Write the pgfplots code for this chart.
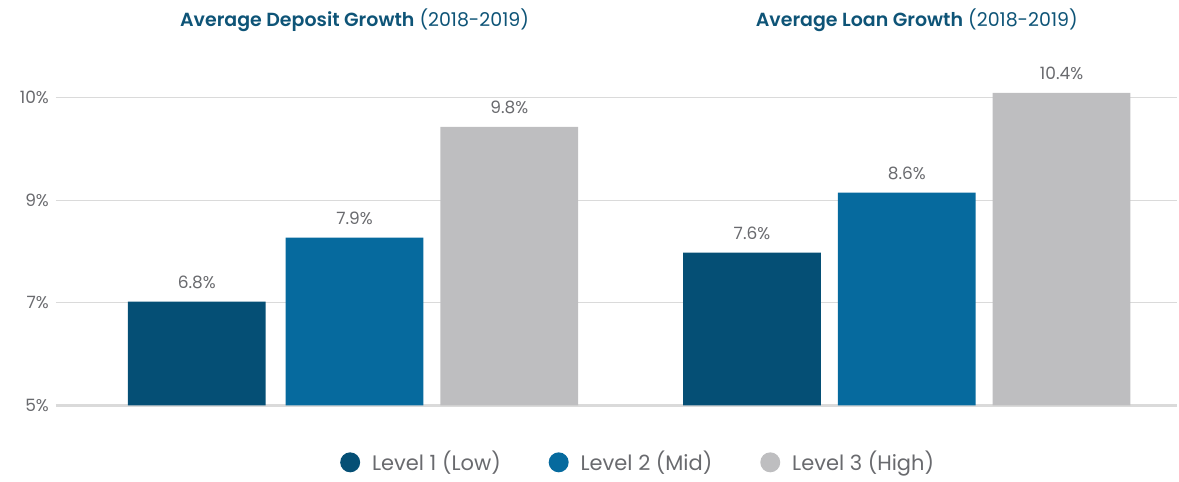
\documentclass[border=0pt]{standalone}
\usepackage{pgfplots}
\pgfplotsset{compat=1.18}
\usepackage{fontspec}
\setmainfont{Poppins}[BoldFont={Poppins SemiBold}]
\definecolor{lvlone}{RGB}{5,79,117}
\definecolor{lvltwo}{RGB}{6,106,158}
\definecolor{lvlthree}{RGB}{190,190,192}
\definecolor{titleblue}{RGB}{14,84,119}
\definecolor{txtgray}{RGB}{105,106,110}
\definecolor{gridgray}{RGB}{218,218,218}

\begin{document}
\begin{tikzpicture}
\begin{axis}[
    scale only axis,
    width=561.5pt, height=183pt,
    xmin=56, xmax=1179,
    ymin=0, ymax=3.564,
    clip=false,
    axis line style={draw=none},
    major tick length=0pt,
    xtick=\empty,
    ytick={1,2,3},
    yticklabels={7\%,9\%,10\%},
    extra y ticks={0},
    extra y tick labels={5\%},
    extra y tick style={grid style={draw=gridgray, line width=1.6pt}},
    ymajorgrids,
    grid style={draw=gridgray, line width=0.6pt},
    yticklabel style={font=\fontsize{8.5}{10}\selectfont, text=txtgray},
    ybar, bar width=138, bar shift=0pt,
    nodes near coords,
    point meta=explicit symbolic,
    every node near coord/.append style={font=\fontsize{8.5}{10}\selectfont, text=txtgray, anchor=south, yshift=3pt},
    legend columns=3,
    legend style={at={(axis cs:640,-0.555)}, anchor=center, draw=none, fill=none,
        font=\fontsize{10.5}{12}\selectfont, text=txtgray,
        /tikz/every odd column/.append style={column sep=4pt},
        /tikz/every even column/.append style={column sep=22pt}},
    legend image code/.code={\fill[#1, draw=none] (0.15cm,0cm) circle (5pt);},
]
% Level 1 (Low)
\addplot[fill=lvlone, draw=none] coordinates {(197,1.013) [6.8\%] (753,1.490) [7.6\%]};
\addlegendentry{Level 1 (Low)}
% Level 2 (Mid)
\addplot[fill=lvltwo, draw=none] coordinates {(355,1.636) [7.9\%] (908,2.074) [8.6\%]};
\addlegendentry{Level 2 (Mid)}
% Level 3 (High)
\addplot[fill=lvlthree, draw=none] coordinates {(510,2.717) [9.8\%] (1063,3.048) [10.4\%]};
\addlegendentry{Level 3 (High)}

% titles
\node[text=titleblue, font=\fontsize{9.5}{11}\selectfont] at (axis cs:355,3.758)
    {\textbf{Average Deposit Growth} (2018-2019)};
\node[text=titleblue, font=\fontsize{9.5}{11}\selectfont] at (axis cs:918,3.758)
    {\textbf{Average Loan Growth} (2018-2019)};

% page frame
\path (axis cs:0,3.953) rectangle (axis cs:1179,-0.662);
\end{axis}
\end{tikzpicture}
\end{document}
